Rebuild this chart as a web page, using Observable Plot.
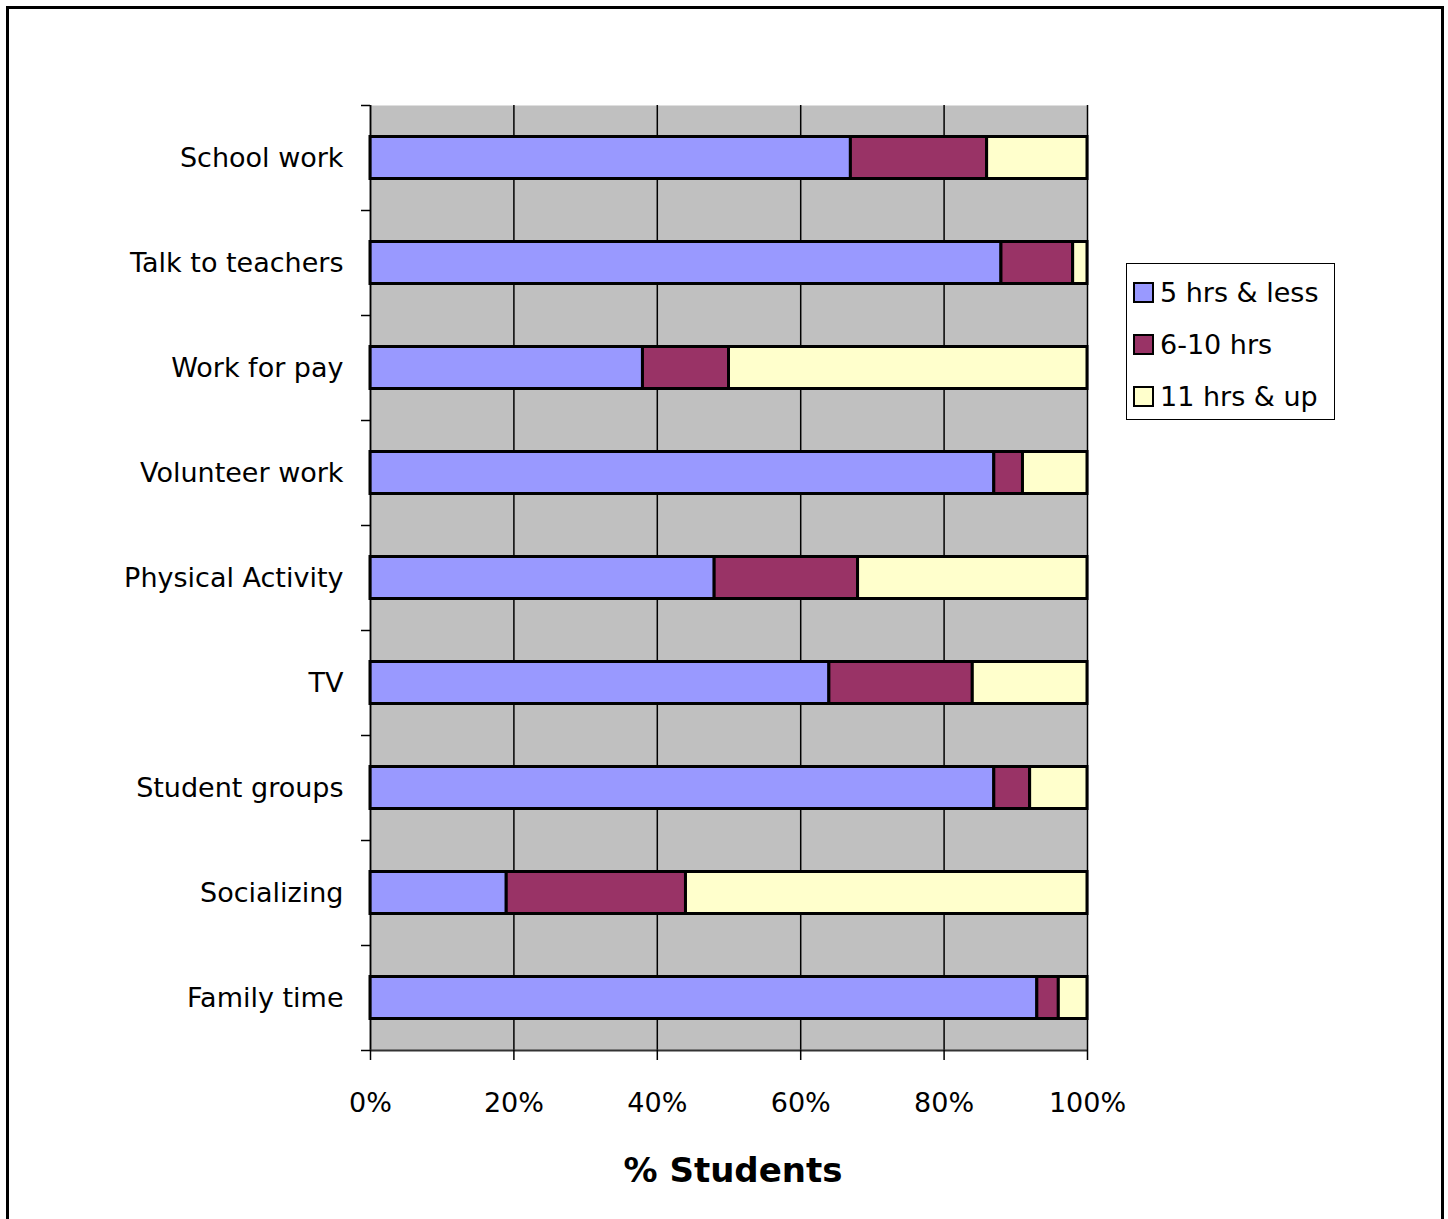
<!DOCTYPE html>
<html>
<head>
<meta charset="utf-8">
<script src="https://cdn.jsdelivr.net/npm/d3@7"></script>
<script src="https://cdn.jsdelivr.net/npm/@observablehq/plot@0.6"></script>
<style>
  html, body { margin: 0; padding: 0; background: #fff; }
  #wrap { position: relative; width: 1448px; height: 1219px; overflow: hidden; font-family: "DejaVu Sans", sans-serif; }
  #border { position: absolute; left: 6px; top: 6px; width: 1432px; height: 1230px; border: 3px solid #000; box-sizing: content-box; }
  #chart { position: absolute; left: 0; top: 0; }
  #xtitle { position: absolute; left: 533px; width: 400px; top: 1150px; text-align: center; font-weight: bold; font-size: 34px; }
  #legend { position: absolute; left: 1126px; top: 263px; width: 207px; height: 155px; border: 1.5px solid #000; background: #fff; }
  .item { position: absolute; left: 6px; height: 30px; display: flex; align-items: center; font-size: 27px; white-space: nowrap; }
  .sw { width: 17px; height: 17px; border: 2.5px solid #000; margin-right: 6px; }
</style>
</head>
<body>
<div id="wrap">
  <div id="border"></div>
  <div id="chart"></div>
  <div id="xtitle"></div>
  <div id="legend"></div>
</div>
<script>
const categories = ["School work", "Talk to teachers", "Work for pay", "Volunteer work", "Physical Activity", "TV", "Student groups", "Socializing", "Family time"];
const series = ["5 hrs & less", "6-10 hrs", "11 hrs & up"];
const hrs5less = [67, 88, 38, 87, 48, 64, 87, 19, 93];
const hrs6to10 = [19, 10, 12, 4, 20, 20, 5, 25, 3];
const hrs11up  = [14, 2, 50, 9, 32, 16, 8, 56, 4];
const xTicks = [0, 20, 40, 60, 80, 100];
const colors = ["#9999FF", "#993366", "#FFFFCC"];
const xTitle = "% Students";

const seriesValues = [hrs5less, hrs6to10, hrs11up];
const rows = [];
categories.forEach((c, i) => {
  let acc = 0;
  series.forEach((s, k) => {
    const v = seriesValues[k][i];
    rows.push({category: c, idx: i, series: s, x1: acc, x2: acc + v});
    acc += v;
  });
});

const chart = Plot.plot({
  width: 1448,
  height: 1219,
  marginLeft: 370,
  marginRight: 361,
  marginTop: 105,
  marginBottom: 169,
  x: {domain: [0, 100]},
  y: {domain: [0, categories.length], reverse: true},
  color: {domain: series, range: colors},
  style: {fontFamily: "DejaVu Sans, sans-serif", fontSize: "27px", color: "#000", background: "transparent", overflow: "visible"},
  marks: [
    Plot.frame({fill: "#C0C0C0", stroke: null}),
    Plot.ruleX(xTicks, {stroke: "#000", strokeWidth: 1.5}),
    Plot.rect(rows, {x1: "x1", x2: "x2", y1: d => d.idx + 0.3, y2: d => d.idx + 0.7, fill: "series", stroke: "#000", strokeWidth: 3}),
    Plot.ruleX([0], {stroke: "#000", strokeWidth: 1.5}),
    Plot.ruleY([categories.length], {stroke: "#333", strokeWidth: 2}),
    Plot.axisX({ticks: xTicks, tickFormat: d => d + "%", tickSize: 10, tickPadding: 32, label: null, stroke: "#000", strokeWidth: 1.5}),
    Plot.axisY({ticks: categories.map((c, i) => i + 0.5), tickFormat: v => categories[Math.floor(v)], tickSize: 0, tickPadding: 27, label: null}),
    Plot.axisY({ticks: d3.range(categories.length + 1), tickFormat: () => "", tickSize: 9, label: null, stroke: "#000", strokeWidth: 1.5})
  ]
});
document.getElementById("chart").appendChild(chart);
document.getElementById("xtitle").textContent = xTitle;

const legend = document.getElementById("legend");
series.forEach((s, k) => {
  const it = document.createElement("div");
  it.className = "item";
  it.style.top = (13 + k * 52) + "px";
  const sw = document.createElement("div");
  sw.className = "sw";
  sw.style.background = colors[k];
  const t = document.createElement("span");
  t.textContent = s;
  it.appendChild(sw);
  it.appendChild(t);
  legend.appendChild(it);
});
</script>
</body>
</html>
